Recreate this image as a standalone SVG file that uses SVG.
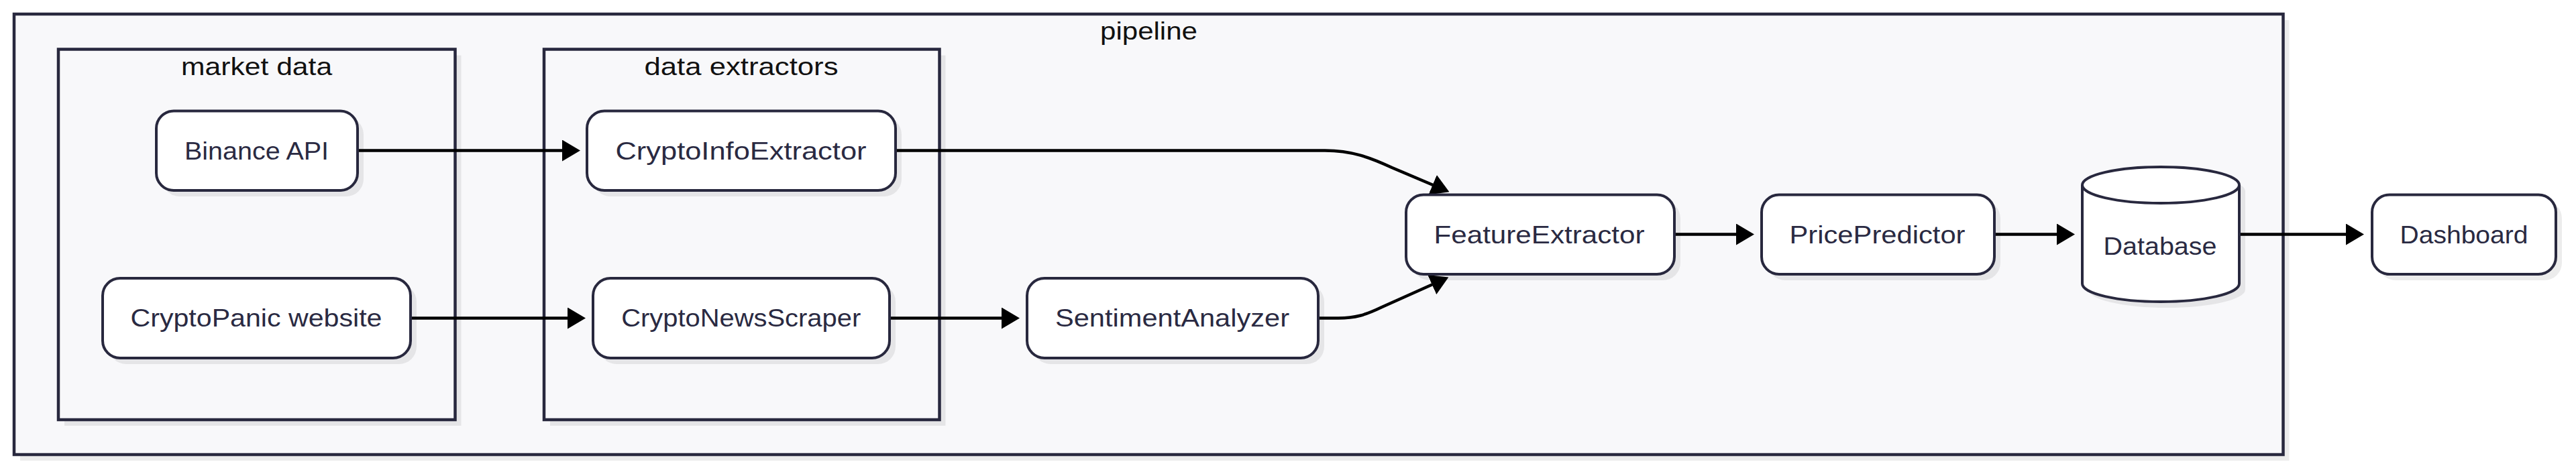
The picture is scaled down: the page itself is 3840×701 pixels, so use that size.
<svg xmlns="http://www.w3.org/2000/svg" width="3840" height="701" viewBox="0 0 3840 701">
<style>
.cluster{fill:#f8f8fa;stroke:#28283e;stroke-width:4.5}
.shadow{fill:#000;fill-opacity:0.075;stroke:none}
.node{fill:#ffffff;stroke:#28283e;stroke-width:4}
.title{font-family:"Liberation Sans",Arial,sans-serif;font-size:36px;fill:#111111;text-anchor:middle}
.label{font-family:"Liberation Sans",Arial,sans-serif;font-size:36px;fill:#2a2a42;text-anchor:middle}
.edge{fill:none;stroke:#000000;stroke-width:4.5;marker-end:url(#arrow)}
</style>
<defs>
<marker id="arrow" viewBox="0 0 27 32" refX="13.5" refY="16" markerWidth="27" markerHeight="32" markerUnits="userSpaceOnUse" orient="auto">
<path d="M0,0 L27,16 L0,32 z" fill="#000000"/>
</marker>
</defs>
<rect width="3840" height="701" fill="#ffffff"/>

<g id="cluster-pipeline">
<rect class="shadow" x="30" y="30" width="3382.5" height="657"/>
<rect class="cluster" x="21" y="21" width="3382.5" height="657"/>
<text class="title" x="1712.5" y="59" textLength="145" lengthAdjust="spacingAndGlyphs">pipeline</text>
</g>
<g id="cluster-market-data">
<rect class="shadow" x="96" y="82.5" width="591.5" height="552.5"/>
<rect class="cluster" x="87" y="73.5" width="591.5" height="552.5"/>
<text class="title" x="382.6" y="111.8" textLength="225" lengthAdjust="spacingAndGlyphs">market data</text>
</g>
<g id="cluster-data-extractors">
<rect class="shadow" x="820" y="82.5" width="589.5" height="552.5"/>
<rect class="cluster" x="811" y="73.5" width="589.5" height="552.5"/>
<text class="title" x="1105" y="111.8" textLength="289" lengthAdjust="spacingAndGlyphs">data extractors</text>
</g>

<g id="connectors">
<path class="edge" d="M533,224.5 L851.5,224.5"/>
<path class="edge" d="M612,474.5 L859.5,474.5"/>
<path class="edge" d="M1335,224.5 L1975,224.5 C2015,224.5 2043,235 2075,250 L2148,281"/>
<path class="edge" d="M1326,474.5 L1506.5,474.5"/>
<path class="edge" d="M1965,474.5 L1995,474.5 C2020,474.5 2035,470 2060,458 L2147,419"/>
<path class="edge" d="M2496,349.5 L2601.5,349.5"/>
<path class="edge" d="M2973,349.5 L3079.5,349.5"/>
<path class="edge" d="M3338,349.5 L3510.5,349.5"/>
</g>

<g id="node-binance">
<rect class="shadow" x="242" y="174.5" width="300" height="118.5" rx="26"/>
<rect class="node" x="233" y="165.5" width="300" height="118.5" rx="26"/>
<text class="label" x="382.5" y="237.5" textLength="215" lengthAdjust="spacingAndGlyphs">Binance API</text>
</g>
<g id="node-cryptopanic">
<rect class="shadow" x="162" y="424" width="459" height="119" rx="26"/>
<rect class="node" x="153" y="415" width="459" height="119" rx="26"/>
<text class="label" x="382" y="487.3" textLength="375" lengthAdjust="spacingAndGlyphs">CryptoPanic website</text>
</g>
<g id="node-cryptoinfoextractor">
<rect class="shadow" x="884" y="174.5" width="460" height="118.5" rx="26"/>
<rect class="node" x="875" y="165.5" width="460" height="118.5" rx="26"/>
<text class="label" x="1104.5" y="237.5" textLength="374" lengthAdjust="spacingAndGlyphs">CryptoInfoExtractor</text>
</g>
<g id="node-cryptonewsscraper">
<rect class="shadow" x="893" y="424" width="442" height="119" rx="26"/>
<rect class="node" x="884" y="415" width="442" height="119" rx="26"/>
<text class="label" x="1104.7" y="487.3" textLength="357" lengthAdjust="spacingAndGlyphs">CryptoNewsScraper</text>
</g>
<g id="node-sentimentanalyzer">
<rect class="shadow" x="1540" y="424" width="434" height="119" rx="26"/>
<rect class="node" x="1531" y="415" width="434" height="119" rx="26"/>
<text class="label" x="1747.5" y="487.3" textLength="349" lengthAdjust="spacingAndGlyphs">SentimentAnalyzer</text>
</g>
<g id="node-featureextractor">
<rect class="shadow" x="2105" y="299.5" width="400" height="118.5" rx="26"/>
<rect class="node" x="2096" y="290.5" width="400" height="118.5" rx="26"/>
<text class="label" x="2294.5" y="362.5" textLength="314" lengthAdjust="spacingAndGlyphs">FeatureExtractor</text>
</g>
<g id="node-pricepredictor">
<rect class="shadow" x="2635" y="299.5" width="347" height="118.5" rx="26"/>
<rect class="node" x="2626" y="290.5" width="347" height="118.5" rx="26"/>
<text class="label" x="2798.5" y="362.5" textLength="262" lengthAdjust="spacingAndGlyphs">PricePredictor</text>
</g>
<g id="node-database">
<path class="shadow" d="M3113,285 a117,27 0 0,0 234,0 a117,27 0 0,0 -234,0 l0,147 a117,27 0 0,0 234,0 l0,-147"/>
<path class="node" d="M3104,276 a117,27 0 0,0 234,0 a117,27 0 0,0 -234,0 l0,147 a117,27 0 0,0 234,0 l0,-147"/>
<text class="label" x="3220" y="380" textLength="169" lengthAdjust="spacingAndGlyphs">Database</text>
</g>
<g id="node-dashboard">
<rect class="shadow" x="3545" y="299.5" width="274" height="118.5" rx="26"/>
<rect class="node" x="3536" y="290.5" width="274" height="118.5" rx="26"/>
<text class="label" x="3673" y="362.5" textLength="191" lengthAdjust="spacingAndGlyphs">Dashboard</text>
</g>
</svg>
